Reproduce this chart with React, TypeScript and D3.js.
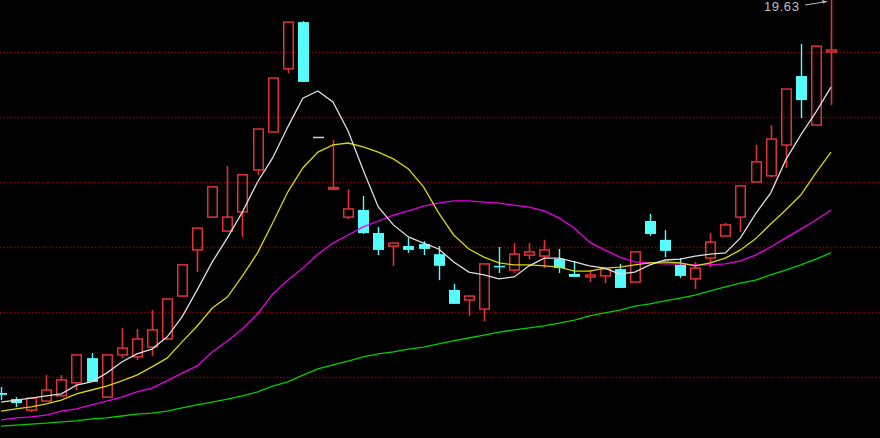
import React from "react";
import * as d3 from "d3";

const open = [7.51,7.32,6.98,7.26,7.42,7.82,8.58,7.38,8.68,8.62,
  8.92,9.17,10.49,11.91,12.92,12.49,13.08,14.37,15.54,17.48,
  18.92,15.37,13.78,12.92,13.14,12.43,12.03,12.03,12.09,11.78,
  10.68,10.37,10.09,11.42,11.29,11.75,11.72,11.63,11.17,11.08,
  11.11,11.32,10.92,12.80,12.22,11.45,11.02,11.66,12.34,12.92,
  14.00,14.19,15.14,17.26,15.75,18.00];
const close = [7.45,7.20,7.35,7.60,7.91,8.68,7.85,8.68,8.89,9.17,
  9.45,10.40,11.45,12.58,13.85,12.92,14.22,15.63,17.20,18.92,
  17.08,15.37,13.83,13.17,12.43,11.91,12.12,11.91,11.94,11.42,
  10.25,10.49,11.48,11.38,11.78,11.85,11.91,11.35,11.08,11.14,
  11.32,10.74,11.85,12.40,11.88,11.11,11.35,12.15,12.68,13.88,
  14.62,15.32,16.86,16.52,18.18,18.06];
const high = [7.69,7.38,7.35,8.06,8.06,8.68,8.74,8.68,9.51,9.48,
  10.06,10.40,11.45,12.58,13.85,14.49,14.22,15.63,17.20,18.92,
  18.95,15.37,15.29,13.78,13.57,12.62,12.12,12.28,12.18,12.03,
  10.86,10.52,11.48,12.00,12.12,12.12,12.22,11.94,11.57,11.29,
  11.35,11.48,11.85,13.02,12.52,11.66,11.54,12.43,12.74,13.88,
  15.14,15.75,16.86,18.25,18.18,19.63];
const low = [7.29,7.08,6.92,7.26,7.42,7.60,7.85,7.38,8.58,8.52,
  8.65,9.14,10.49,11.23,12.89,12.49,12.31,14.22,15.54,17.35,
  17.08,15.37,13.75,12.86,12.40,11.75,11.42,11.82,11.75,10.98,
  10.25,9.88,9.72,11.20,11.20,11.63,11.35,11.20,11.08,10.92,
  10.89,10.74,10.92,12.34,11.69,11.05,10.71,11.38,12.34,12.46,
  14.00,14.14,14.43,15.97,15.75,16.37];

const ma5 = [7.23,7.29,7.35,7.42,7.48,7.75,7.85,8.12,8.46,8.71,
  8.86,9.23,9.85,10.68,11.54,12.28,13.08,14.00,14.74,15.69,
  16.58,16.80,16.46,15.57,14.37,13.23,12.68,12.31,12.12,11.94,
  11.54,11.23,11.14,11.02,11.08,11.42,11.66,11.66,11.54,11.42,
  11.35,11.17,11.23,11.45,11.60,11.63,11.72,11.78,11.82,12.28,
  13.02,13.66,14.68,15.45,16.15,16.92];
const ma10 = [6.95,7.02,7.08,7.17,7.29,7.48,7.60,7.72,7.88,8.06,
  8.31,8.58,9.08,9.57,10.12,10.46,11.11,11.82,12.74,13.69,
  14.43,14.92,15.14,15.20,15.08,14.92,14.71,14.40,13.85,13.05,
  12.37,11.94,11.69,11.51,11.45,11.45,11.42,11.38,11.26,11.26,
  11.35,11.38,11.45,11.51,11.54,11.51,11.42,11.51,11.66,11.91,
  12.25,12.71,13.14,13.60,14.28,14.92];
const ma20 = [6.68,6.74,6.77,6.83,6.95,7.02,7.14,7.26,7.38,7.54,
  7.66,7.88,8.12,8.34,8.77,9.11,9.48,9.94,10.55,10.98,
  11.35,11.78,12.12,12.37,12.62,12.80,12.98,13.11,13.26,13.35,
  13.42,13.42,13.38,13.35,13.29,13.23,13.11,12.89,12.58,12.15,
  11.91,11.69,11.54,11.51,11.48,11.48,11.45,11.45,11.48,11.57,
  11.75,12.00,12.28,12.55,12.83,13.14];
const ma60 = [6.49,6.52,6.55,6.58,6.62,6.65,6.71,6.74,6.80,6.86,
  6.89,6.95,7.05,7.14,7.23,7.32,7.42,7.54,7.72,7.85,
  8.06,8.25,8.37,8.49,8.62,8.71,8.77,8.86,8.92,9.02,
  9.11,9.20,9.29,9.38,9.45,9.51,9.57,9.66,9.75,9.88,
  9.97,10.06,10.18,10.25,10.34,10.43,10.52,10.65,10.77,10.89,
  10.98,11.14,11.29,11.45,11.63,11.82];

const gridPrices = [18, 16, 14, 12, 10, 8];
const maxLabel = "19.63";

const W = 880;
const H = 438;
const RED = "#e03232";
const CYAN = "#54fcfc";

export default function App() {
  const n = close.length;
  const x = d3.scaleLinear().domain([0, n - 1]).range([1, 831]);
  const y = d3.scaleLinear().domain([8, 18]).range([377, 52]);
  const bw = 11;

  const lineGen = (arr: number[]) =>
    d3.line<number>().x((_, i) => x(i)).y((v) => y(v)).curve(d3.curveLinear)(arr) || "";

  const mas = [
    { data: ma60, color: "#00d000" },
    { data: ma20, color: "#e800e8" },
    { data: ma10, color: "#d8d800" },
    { data: ma5, color: "#dedede" },
  ];

  const maxIdx = high.indexOf(d3.max(high) as number);

  return (
    <div style={{ position: "fixed", left: 0, top: 0, width: W, height: H }}>
      <svg width={W} height={H} style={{ display: "block", background: "#000" }}>
        <rect x={0} y={0} width={W} height={H} fill="#000" />
        {gridPrices.map((p) => (
          <line key={p} x1={0} x2={W} y1={Math.round(y(p)) + 0.5} y2={Math.round(y(p)) + 0.5}
            stroke="#8a0000" strokeWidth={1.4} strokeDasharray="1.5 2" />
        ))}
        {close.map((c, i) => {
          const o = open[i];
          const cx = Math.round(x(i)) + 0.5;
          const yo = y(o), yc = y(c), yh = y(high[i]), yl = y(low[i]);
          if (o === c && high[i] === low[i]) {
            return (
              <line key={i} x1={cx - bw / 2} x2={cx + bw / 2} y1={yc} y2={yc} stroke="#d0d0d0" strokeWidth={1.5} />
            );
          }
          if (c >= o) {
            const top = Math.min(yo, yc), bot = Math.max(yo, yc);
            const h = Math.max(bot - top, 1.5);
            return (
              <g key={i}>
                <line x1={cx} x2={cx} y1={yh} y2={top} stroke={RED} strokeWidth={1.6} />
                <line x1={cx} x2={cx} y1={top + h} y2={yl} stroke={RED} strokeWidth={1.6} />
                <rect x={cx - bw / 2 + 0.75} y={top} width={bw - 1.5} height={h} fill="none" stroke={RED} strokeWidth={1.5} />
              </g>
            );
          }
          const h = Math.max(yc - yo, 1.5);
          return (
            <g key={i}>
              <line x1={cx} x2={cx} y1={yh} y2={yl} stroke={CYAN} strokeWidth={1.4} />
              <rect x={cx - bw / 2} y={yo} width={bw} height={h} fill={CYAN} />
            </g>
          );
        })}
        {mas.map((m, k) => (
          <path key={k} d={lineGen(m.data)} fill="none" stroke={m.color} strokeWidth={1.3} />
        ))}
        <text x={x(maxIdx) - 67} y={11} fill="#bfbfbf" fontSize={13} letterSpacing={0.6}
          fontFamily="'Liberation Sans', Arial, sans-serif">{maxLabel}</text>
        <line x1={x(maxIdx) - 26} y1={5} x2={x(maxIdx) - 4} y2={1.5} stroke="#bfbfbf" strokeWidth={1} />
        <path d={`M${x(maxIdx) - 4},1.5 l-5,-1.5 l1,3.5 z`} fill="#bfbfbf" />
      </svg>
    </div>
  );
}
